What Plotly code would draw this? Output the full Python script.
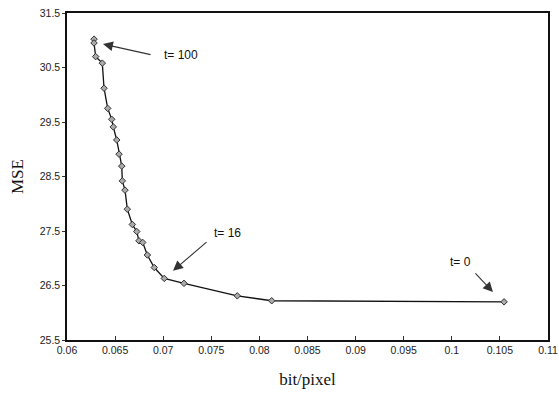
import plotly.graph_objects as go

bitrate = [0.06281, 0.06281, 0.06298, 0.06367, 0.06385, 0.06423, 0.06465, 0.06481,
           0.06517, 0.06541, 0.06569, 0.06575, 0.06603, 0.06627, 0.06679, 0.06725,
           0.06748, 0.06787, 0.06835, 0.06907, 0.07011, 0.07216, 0.07770, 0.08128,
           0.10543]
mse = [31.02, 30.95, 30.70, 30.58, 30.12, 29.75, 29.55, 29.41,
       29.17, 28.91, 28.69, 28.42, 28.25, 27.90, 27.62, 27.49,
       27.32, 27.29, 27.06, 26.83, 26.63, 26.54, 26.31, 26.22,
       26.20]

x_ticks = [0.06, 0.065, 0.07, 0.075, 0.08, 0.085, 0.09, 0.095, 0.1, 0.105, 0.11]
x_labels = ["0.06", "0.065", "0.07", "0.075", "0.08", "0.085", "0.09", "0.095", "0.1", "0.105", "0.11"]
y_ticks = [25.5, 26.5, 27.5, 28.5, 29.5, 30.5, 31.5]
y_labels = ["25.5", "26.5", "27.5", "28.5", "29.5", "30.5", "31.5"]

# annotations: label, arrow tip (x, y), arrow tail (x, y), text anchor (x, y)
ann_labels = ["t= 100", "t= 16", "t= 0"]
ann_tip = [(0.06374, 30.93), (0.07102, 26.77), (0.10428, 26.38)]
ann_tail = [(0.06884, 30.73), (0.07466, 27.32), (0.10231, 26.75)]
ann_text = [(0.06988, 30.73), (0.07507, 27.46), (0.09961, 26.93)]

fig = go.Figure()
fig.add_trace(go.Scatter(
    x=bitrate, y=mse, mode="lines+markers",
    line=dict(color="#111111", width=1.3),
    marker=dict(symbol="diamond", size=5, color="#aaaaaa",
                line=dict(color="#333333", width=1)),
    showlegend=False,
))

annotations = []
for lab, tip, tail, txt in zip(ann_labels, ann_tip, ann_tail, ann_text):
    annotations.append(dict(
        x=tip[0], y=tip[1], ax=tail[0], ay=tail[1],
        xref="x", yref="y", axref="x", ayref="y",
        text="", showarrow=True, arrowhead=2, arrowsize=1.8,
        arrowwidth=1.1, arrowcolor="#333333",
    ))
    annotations.append(dict(
        x=txt[0], y=txt[1], xref="x", yref="y", text=lab,
        showarrow=False, xanchor="left", yanchor="middle",
        font=dict(family="Liberation Sans, Arial", size=12, color="#111111"),
    ))

fig.update_layout(
    width=559, height=405,
    margin=dict(l=67, r=11, t=13, b=65),
    paper_bgcolor="white", plot_bgcolor="white",
    annotations=annotations,
    font=dict(family="Liberation Sans, Arial", size=10, color="#222222"),
)
fig.update_xaxes(
    range=[0.06, 0.11], tickvals=x_ticks, ticktext=x_labels, automargin=False,
    showgrid=False, zeroline=False, showline=True, linecolor="#111111",
    linewidth=1.5, mirror=True, ticks="inside", ticklen=4, tickcolor="#333333",
    title=dict(text="bit/pixel", font=dict(family="Liberation Serif, Times New Roman", size=17, color="#111111"), standoff=18),
    tickfont=dict(size=10.5),
)
fig.update_yaxes(
    range=[25.5, 31.5], tickvals=y_ticks, ticktext=y_labels, automargin=False,
    showgrid=False, zeroline=False, showline=True, linecolor="#111111",
    linewidth=1.5, mirror=True, ticks="outside", ticklen=3, tickcolor="#333333",
    title=dict(text="MSE", font=dict(family="Liberation Serif, Times New Roman", size=17, color="#111111"), standoff=12),
    tickfont=dict(size=10.5),
)

fig.write_html("out.html")
